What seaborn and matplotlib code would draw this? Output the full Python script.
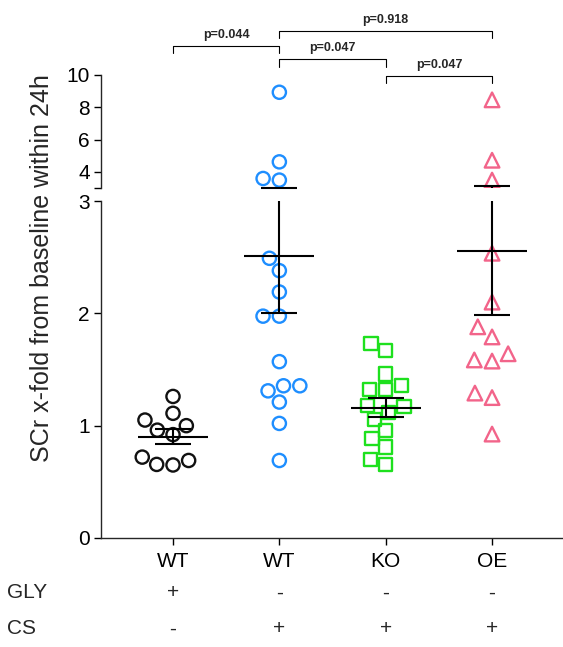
import numpy as np
import pandas as pd
import matplotlib
matplotlib.use("Agg")
import matplotlib.pyplot as plt
import matplotlib.transforms as mtransforms
import seaborn as sns

# Groups, axis labels and treatment rows
groups = ["WT_GLY", "WT_CS", "KO_CS", "OE_CS"]
genotype_labels = ["WT", "WT", "KO", "OE"]
gly_row = ["+", "-", "-", "-"]
cs_row = ["-", "+", "+", "+"]

# Serum creatinine, x-fold from baseline within 24 h (one value per animal)
wt_gly = [1.26, 1.00, 1.05, 1.11, 0.96, 0.92, 0.65, 0.72, 0.655, 0.69]
wt_cs = [8.93, 4.62, 3.49, 3.59, 2.49, 2.38, 2.19, 1.975, 1.975, 1.57,
         1.355, 1.355, 1.31, 1.21, 1.02, 0.69]
ko_cs = [1.73, 1.67, 1.46, 1.32, 1.32, 1.355, 1.12, 1.17, 1.18, 1.055,
         0.955, 0.885, 0.81, 0.70, 0.655]
oe_cs = [8.46, 4.72, 3.49, 2.535, 2.10, 1.88, 1.79, 1.64, 1.575, 1.585,
         1.25, 1.29, 0.925]
series = [wt_gly, wt_cs, ko_cs, oe_cs]

# Pairwise comparisons: (group a, group b, label, bracket height on the upper scale)
comparisons = [(0, 1, "p=0.044", 11.79),
               (1, 3, "p=0.918", 12.72),
               (1, 2, "p=0.047", 10.97),
               (2, 3, "p=0.047", 9.94)]

colors = ["#111111", "#1E8EFF", "#1EE01E", "#F2648A"]
markers = ["o", "o", "s", "^"]
marker_sizes = [9.5, 9.5, 9.5, 10.5]

sns.set_style("ticks")
plt.rcParams["font.family"] = ["Liberation Sans", "DejaVu Sans"]

fig = plt.figure(figsize=(5.63, 6.47), dpi=100)
ax_lo = fig.add_axes([0.1794, 0.1685, 0.8206, 0.5208])
ax_hi = fig.add_axes([0.1794, 0.7094, 0.8206, 0.1747])
segments = [(ax_lo, 0.0, 3.0), (ax_hi, 3.0, 10.0)]

for i, vals in enumerate(series):
    vals = np.asarray(vals, dtype=float)
    df = pd.DataFrame({"group": groups[i], "value": vals})
    for ax, lo, hi in segments:
        sub = df[(df["value"] > lo) & (df["value"] <= hi)]
        if len(sub) == 0:
            continue
        n_before = len(ax.collections)
        sns.swarmplot(data=sub, x="group", y="value", order=groups, ax=ax,
                      color=colors[i], marker=markers[i], size=marker_sizes[i],
                      linewidth=1.7, legend=False, zorder=2)
        for coll in ax.collections[n_before:]:
            coll.set_facecolor("none")
            coll.set_edgecolor(colors[i])
            coll.set_linewidth(1.7)

    # mean with SEM
    mean = vals.mean()
    sem = vals.std(ddof=1) / np.sqrt(len(vals))
    for ax, lo, hi in segments:
        for y, hw in [(mean, 0.33), (mean - sem, 0.17), (mean + sem, 0.17)]:
            if lo <= y <= hi:
                ax.hlines(y, i - hw, i + hw, color="black", lw=1.5,
                          clip_on=False, zorder=4)
        y0, y1 = max(lo, mean - sem), min(hi, mean + sem)
        if y1 > y0:
            ax.vlines(i, y0, y1, color="black", lw=1.5, clip_on=False, zorder=4)

for ax in (ax_lo, ax_hi):
    ax.set_xlim(-0.677, 3.667)
    ax.set_xlabel("")
    ax.set_ylabel("")
    ax.set_facecolor("none")
    for s in ("top", "right"):
        ax.spines[s].set_visible(False)
    ax.spines["left"].set_linewidth(1.0)
    ax.spines["bottom"].set_linewidth(1.0)
    ax.tick_params(axis="both", length=5, width=1.0, labelsize=15,
                   color="black", labelcolor="black", pad=3)

ax_lo.set_ylim(0, 3)
ax_lo.set_yticks([0, 1, 2, 3])
ax_lo.set_yticklabels(["0", "1", "2", "3"])
ax_lo.set_xticks(range(len(groups)))
ax_lo.set_xticklabels(genotype_labels)
ax_lo.tick_params(axis="x", pad=5)

ax_hi.set_ylim(3, 10)
ax_hi.set_yticks([3, 4, 6, 8, 10])
ax_hi.set_yticklabels(["", "4", "6", "8", "10"])
ax_hi.spines["bottom"].set_visible(False)
ax_hi.set_xticks([])

# significance brackets
for a, b, label, h in comparisons:
    ax_hi.plot([a, a, b, b], [h - 0.45, h, h, h - 0.45], color="black",
               lw=0.8, clip_on=False)
    ax_hi.text((a + b) / 2, h + 0.68, label, ha="center", va="center",
               fontsize=9, fontweight="bold", clip_on=False)

# treatment rows below the axis
trans = mtransforms.blended_transform_factory(ax_lo.transData, fig.transFigure)
row_y = {"GLY": 1 - 593 / 647, "CS": 1 - 629 / 647}
for name, row in (("GLY", gly_row), ("CS", cs_row)):
    fig.text(7 / 563, row_y[name], name, ha="left", va="center", fontsize=15)
    for i, sign in enumerate(row):
        ax_lo.text(i, row_y[name], sign, transform=trans, ha="center",
                   va="center", fontsize=15)

fig.text(42 / 563, 1 - 268 / 647, "SCr x-fold from baseline within 24h",
         rotation=90, ha="center", va="center", fontsize=18)

fig.savefig("out.png", dpi=100)
